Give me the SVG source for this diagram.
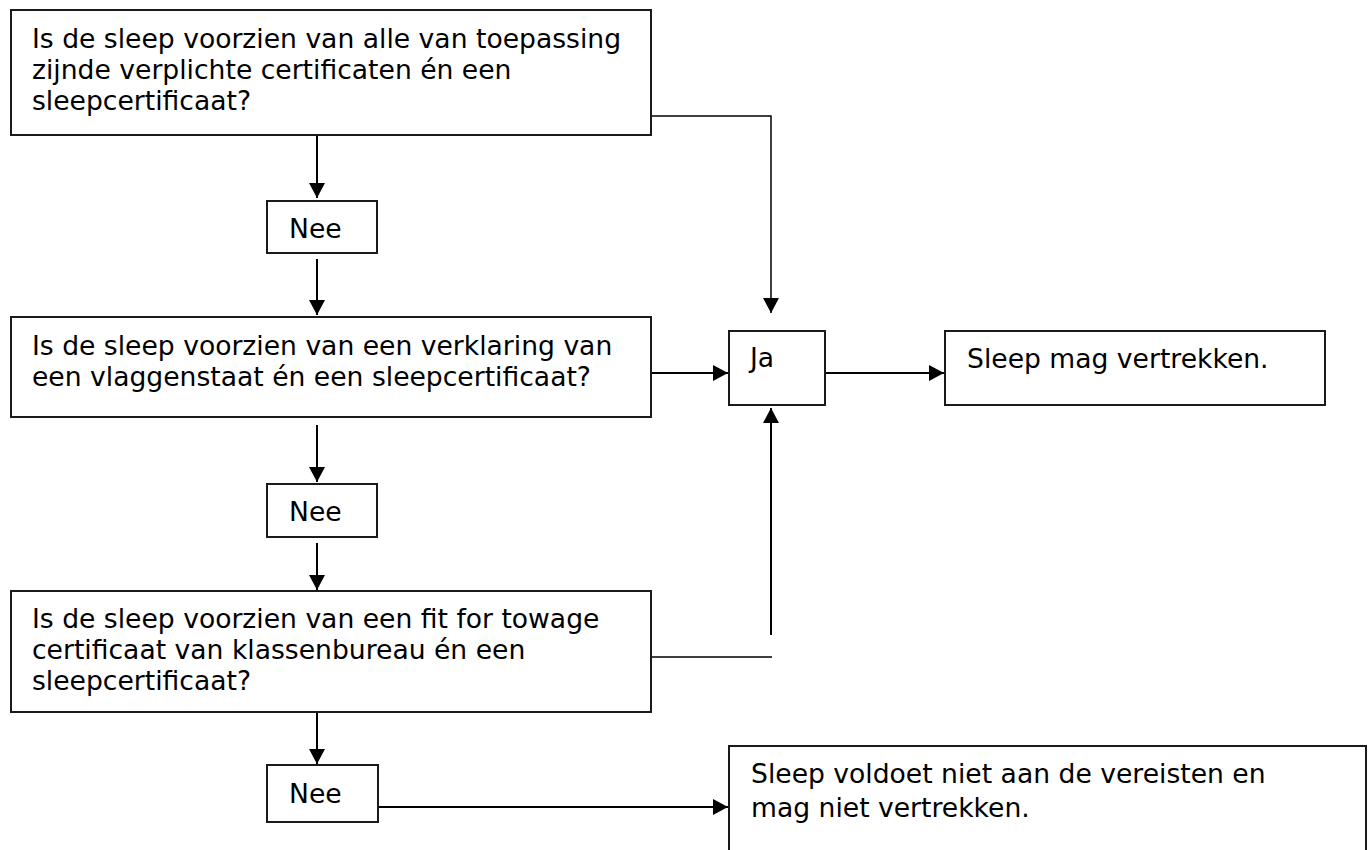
<svg xmlns="http://www.w3.org/2000/svg" width="1371" height="850" viewBox="0 0 1371 850">
<defs>
<style>
.box{fill:#fff;stroke:#1a1a1a;stroke-width:2}
.t{font-family:"DejaVu Sans","Verdana",sans-serif;font-size:26.6px;fill:#000}
.c{fill:none;stroke:#000;stroke-width:2}
.thin{fill:none;stroke:#000;stroke-width:1.5}
</style>
<marker id="ah" markerWidth="16" markerHeight="16" refX="15" refY="8" orient="auto" markerUnits="userSpaceOnUse"><path d="M0,0 L15,8 L0,16 z" fill="#000"/></marker>
</defs>
<rect width="1371" height="850" fill="#fff"/>
<g id="connectors">
<path class="c" d="M317,135 V198" marker-end="url(#ah)"/>
<path class="c" d="M317,259 V315" marker-end="url(#ah)"/>
<path class="c" d="M317,425 V482" marker-end="url(#ah)"/>
<path class="c" d="M317,543 V590" marker-end="url(#ah)"/>
<path class="c" d="M317,712 V764" marker-end="url(#ah)"/>
<path class="thin" d="M651,116 H771 V313" marker-end="url(#ah)"/>
<path class="c" d="M651,373 H728" marker-end="url(#ah)"/>
<path class="c" d="M825,373 H944" marker-end="url(#ah)"/>
<path class="thin" d="M651,657 H772"/>
<path class="c" d="M771,635 V408" marker-end="url(#ah)"/>
<path class="c" d="M378,807 H728" marker-end="url(#ah)"/>
</g>
<g id="q1">
<rect class="box" x="11" y="10" width="640" height="125"/>
<text class="t" x="32" y="48">Is de sleep voorzien van alle van toepassing</text>
<text class="t" x="32" y="79">zijnde verplichte certificaten én een</text>
<text class="t" x="32" y="110">sleepcertificaat?</text>
</g>
<g id="nee1">
<rect class="box" x="267" y="201" width="110" height="52"/>
<text class="t" x="289" y="238">Nee</text>
</g>
<g id="q2">
<rect class="box" x="11" y="317" width="640" height="100"/>
<text class="t" x="32" y="355">Is de sleep voorzien van een verklaring van</text>
<text class="t" x="32" y="386">een vlaggenstaat én een sleepcertificaat?</text>
</g>
<g id="nee2">
<rect class="box" x="267" y="484" width="110" height="53"/>
<text class="t" x="289" y="521">Nee</text>
</g>
<g id="q3">
<rect class="box" x="11" y="591" width="640" height="121"/>
<text class="t" x="32" y="628">Is de sleep voorzien van een fit for towage</text>
<text class="t" x="32" y="659">certificaat van klassenbureau én een</text>
<text class="t" x="32" y="690">sleepcertificaat?</text>
</g>
<g id="nee3">
<rect class="box" x="267" y="765" width="111" height="57"/>
<text class="t" x="289" y="803">Nee</text>
</g>
<g id="ja">
<rect class="box" x="729" y="331" width="96" height="74"/>
<text class="t" x="750" y="367">Ja</text>
</g>
<g id="vertrekken">
<rect class="box" x="945" y="331" width="380" height="74"/>
<text class="t" x="967" y="368">Sleep mag vertrekken.</text>
</g>
<g id="niet">
<rect class="box" x="729" y="746" width="637" height="120"/>
<text class="t" x="751" y="783">Sleep voldoet niet aan de vereisten en</text>
<text class="t" x="751" y="817">mag niet vertrekken.</text>
</g>
</svg>
